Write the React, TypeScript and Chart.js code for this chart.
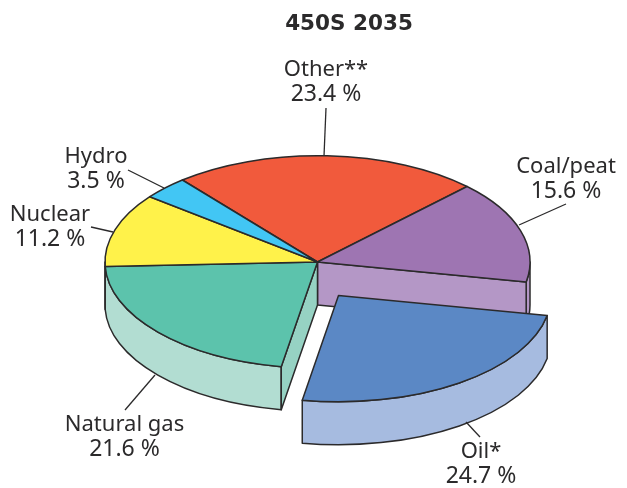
import React, { useEffect, useRef } from "react";
import { Chart, registerables } from "chart.js";

Chart.register(...registerables);

const categories = ["Other**", "Coal/peat", "Oil*", "Natural gas", "Nuclear", "Hydro"];
const shares = [23.4, 15.6, 24.7, 21.6, 11.2, 3.5];
const topColors = ["#f15a3c", "#9e75b2", "#5b88c5", "#5cc3ac", "#fff24a", "#42c6f4"];
const wallColors = ["#f8ad9d", "#b497c6", "#a6bbe0", "#b2ddd2", "#fff89c", "#a0e2f9"];
const cutColors = ["#f8ad9d", "#b497c6", "#a6bbe0", "#96d2c3", "#fff89c", "#a0e2f9"];
const explodedIndex = 2;
const title = "450S 2035";

const TILT = 0.5;
const DEPTH = 43;
const SHIFT = { x: 21, y: 33.5 };
const INK = "#2b2a2b";
const FONT = '"Noto Sans", sans-serif';

// label centre x, first baseline y, then the leader line
const labelLayout = [
  { x: 326, y: 76, leader: [326, 108, 324, 156] },
  { x: 566, y: 173, leader: [566, 204, 519, 225] },
  { x: 481, y: 458, leader: [480, 437, 466, 422] },
  { x: 124.5, y: 431, leader: [125, 410, 155, 375] },
  { x: 50, y: 221, leader: [91, 227, 113, 232] },
  { x: 96, y: 163, leader: [128, 170, 164, 188] },
];

const pie3d = {
  id: "pie3d",
  beforeDatasetsDraw(chart: any) {
    const ctx = chart.ctx as CanvasRenderingContext2D;
    const arcs = chart.getDatasetMeta(0).data as any[];
    const n = arcs.length;

    const outerWall = (el: any, i: number, dx: number, dy: number) => {
      const a0 = Math.max(el.startAngle, 0);
      const a1 = Math.min(el.endAngle, Math.PI);
      if (a1 <= a0) return;
      const cx = el.x + dx;
      const cy = el.y + dy;
      const r = el.outerRadius;
      ctx.beginPath();
      ctx.ellipse(cx, cy, r, r * TILT, 0, a0, a1);
      ctx.ellipse(cx, cy + DEPTH, r, r * TILT, 0, a1, a0, true);
      ctx.closePath();
      ctx.fillStyle = wallColors[i];
      ctx.fill();
      ctx.stroke();
    };
    const cutWall = (el: any, i: number, angle: number) => {
      const r = el.outerRadius;
      const rimX = el.x + r * Math.cos(angle);
      const rimY = el.y + r * TILT * Math.sin(angle);
      ctx.beginPath();
      ctx.moveTo(el.x, el.y);
      ctx.lineTo(rimX, rimY);
      ctx.lineTo(rimX, rimY + DEPTH);
      ctx.lineTo(el.x, el.y + DEPTH);
      ctx.closePath();
      ctx.fillStyle = cutColors[i];
      ctx.fill();
      ctx.stroke();
    };
    const topFace = (el: any, dx: number, dy: number) => {
      ctx.save();
      ctx.translate(dx, dy + el.y);
      ctx.scale(1, TILT);
      ctx.translate(0, -el.y);
      el.draw(ctx);
      ctx.restore();
      ctx.beginPath();
      ctx.moveTo(el.x + dx, el.y + dy);
      ctx.ellipse(el.x + dx, el.y + dy, el.outerRadius, el.outerRadius * TILT, 0, el.startAngle, el.endAngle);
      ctx.closePath();
      ctx.stroke();
    };

    ctx.save();
    ctx.lineWidth = 1.5;
    ctx.lineJoin = "round";
    ctx.strokeStyle = INK;

    arcs.forEach((el, i) => {
      if (i === explodedIndex) return;
      outerWall(el, i, 0, 0);
      if ((i + 1) % n === explodedIndex) cutWall(el, i, el.endAngle);
      if ((i - 1 + n) % n === explodedIndex) cutWall(el, i, el.startAngle);
    });
    arcs.forEach((el, i) => {
      if (i !== explodedIndex) topFace(el, 0, 0);
    });
    outerWall(arcs[explodedIndex], explodedIndex, SHIFT.x, SHIFT.y);
    topFace(arcs[explodedIndex], SHIFT.x, SHIFT.y);

    // title, labels and leaders
    ctx.lineWidth = 1.3;
    ctx.fillStyle = INK;
    ctx.textAlign = "center";
    ctx.textBaseline = "alphabetic";
    ctx.font = `bold 21.5px "DejaVu Sans", sans-serif`;
    ctx.fillText(title, 349, 30);
    categories.forEach((name, i) => {
      const p = labelLayout[i];
      ctx.font = `22px ${FONT}`;
      ctx.fillText(name, p.x, p.y);
      ctx.font = `23px ${FONT}`;
      ctx.fillText(`${shares[i].toFixed(1)} %`, p.x, p.y + 25);
      ctx.beginPath();
      ctx.moveTo(p.leader[0], p.leader[1]);
      ctx.lineTo(p.leader[2], p.leader[3]);
      ctx.stroke();
    });
    ctx.restore();
    return false;
  },
};

export default function App() {
  const ref = useRef<HTMLCanvasElement>(null);
  useEffect(() => {
    const chart = new Chart(ref.current as HTMLCanvasElement, {
      type: "pie",
      data: {
        labels: categories,
        datasets: [{ data: shares, backgroundColor: topColors, borderWidth: 0 }],
      },
      options: {
        animation: false,
        responsive: false,
        radius: 212.5,
        rotation: -39.5,
        layout: { padding: { left: 105, right: 97, top: 50, bottom: 14 } },
        plugins: { legend: { display: false }, tooltip: { enabled: false } },
      } as any,
      plugins: [pie3d as any],
    });
    return () => chart.destroy();
  }, []);
  return (
    <div style={{ position: "absolute", left: 0, top: 0, width: 627, height: 488, background: "#fff" }}>
      <canvas ref={ref} width={627} height={488} style={{ display: "block" }} />
    </div>
  );
}
